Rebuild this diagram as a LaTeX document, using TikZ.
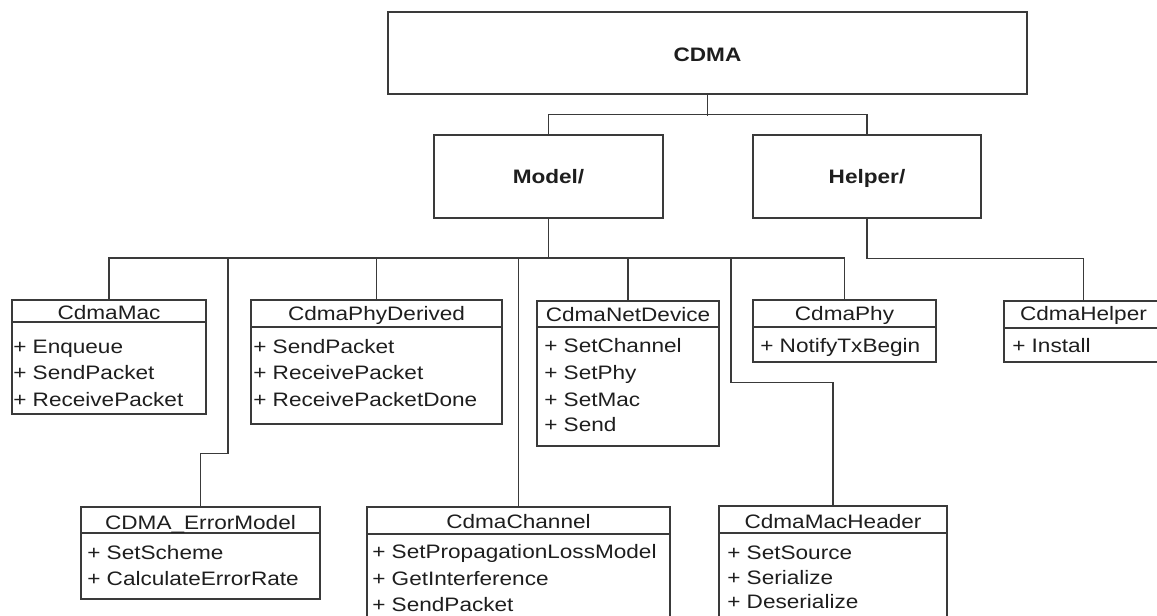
\documentclass[tikz,border=0pt]{standalone}
\usepackage{fontspec}
\setmainfont{Liberation Sans}[FakeStretch=1.16]
\usetikzlibrary{fit}
\definecolor{lc}{HTML}{3A3A3A}
\definecolor{tc}{HTML}{1E1E1E}
\newcommand\diagfont{\fontsize{14.6}{17}\selectfont}
\begin{document}
\begin{tikzpicture}[x=0.75pt,y=-0.75pt,
  umlbox/.style={draw=lc,line width=1pt,inner sep=0pt,rectangle},
  wire/.style={draw=lc,line width=1pt},
  ttl/.style={anchor=base,inner sep=0pt,text=tc,font=\diagfont},
  row/.style={anchor=base west,inner sep=0pt,text=tc,font=\diagfont},
  pkg/.style={anchor=base,inner sep=0pt,text=tc,font=\diagfont\bfseries}]
\path[use as bounding box] (0,0) rectangle (1157,616);
\clip (0,0) rectangle (1157,616);

% package boxes
\node[umlbox,fit={(388,12) (1027,94)}] (cdma) {};
\node[pkg] (cdmat) at (707.5,62) {CDMA};
\node[umlbox,fit={(434,135) (663,218)}] (model) {};
\node[pkg] (modelt) at (548.5,184) {Model/};
\node[umlbox,fit={(753,135) (981,218)}] (helper) {};
\node[pkg] (helpert) at (867,184) {Helper/};

% CdmaMac
\node[umlbox,fit={(12,300) (206,414)}] (mac) {};
\draw[wire] (mac.west |- 0,322) -- (mac.east |- 0,322);
\node[ttl] (mact) at (109,320) {CdmaMac};
\node[row] (mac1) at (13,354) {+ Enqueue};
\node[row] (mac2) at (13,380) {+ SendPacket};
\node[row] (mac3) at (13,407) {+ ReceivePacket};

% CdmaPhyDerived
\node[umlbox,fit={(251,300) (502,424)}] (phyd) {};
\draw[wire] (phyd.west |- 0,327) -- (phyd.east |- 0,327);
\node[ttl] (phydt) at (376.5,321) {CdmaPhyDerived};
\node[row] (phyd1) at (253,354) {+ SendPacket};
\node[row] (phyd2) at (253,380) {+ ReceivePacket};
\node[row] (phyd3) at (253,407) {+ ReceivePacketDone};

% CdmaNetDevice
\node[umlbox,fit={(537,301) (719,446)}] (netdev) {};
\draw[wire] (netdev.west |- 0,327) -- (netdev.east |- 0,327);
\node[ttl] (netdevt) at (628,322) {CdmaNetDevice};
\node[row] (nd1) at (544,353) {+ SetChannel};
\node[row] (nd2) at (544,380) {+ SetPhy};
\node[row] (nd3) at (544,407) {+ SetMac};
\node[row] (nd4) at (544,432) {+ Send};

% CdmaPhy
\node[umlbox,fit={(753,300) (936,362)}] (phy) {};
\draw[wire] (phy.west |- 0,327) -- (phy.east |- 0,327);
\node[ttl] (phyt) at (844.5,321) {CdmaPhy};
\node[row] (phy1) at (760,353) {+ NotifyTxBegin};

% CdmaHelper
\node[umlbox,fit={(1004,301) (1163,362)}] (hlp) {};
\draw[wire] (hlp.west |- 0,328) -- (hlp.east |- 0,328);
\node[ttl] (hlpt) at (1083.5,321) {CdmaHelper};
\node[row] (hlp1) at (1012,353) {+ Install};

% CDMA_ErrorModel
\node[umlbox,fit={(81,507) (320,599)}] (err) {};
\draw[wire] (err.west |- 0,533) -- (err.east |- 0,533);
\node[ttl] (errt) at (200.5,529) {CDMA\_ErrorModel};
\node[row] (err1) at (87,559) {+ SetScheme};
\node[row] (err2) at (87,585) {+ CalculateErrorRate};

% CdmaChannel
\node[umlbox,fit={(367,507) (670,630)}] (chan) {};
\draw[wire] (chan.west |- 0,534) -- (chan.east |- 0,534);
\node[ttl] (chant) at (518.5,528) {CdmaChannel};
\node[row] (ch1) at (372,558) {+ SetPropagationLossModel};
\node[row] (ch2) at (372,585) {+ GetInterference};
\node[row] (ch3) at (372,611) {+ SendPacket};

% CdmaMacHeader
\node[umlbox,fit={(719,506) (947,630)}] (mh) {};
\draw[wire] (mh.west |- 0,533) -- (mh.east |- 0,533);
\node[ttl] (mht) at (833,528) {CdmaMacHeader};
\node[row] (mh1) at (727,559) {+ SetSource};
\node[row] (mh2) at (727,584) {+ Serialize};
\node[row] (mh3) at (727,608) {+ Deserialize};

% connectors
\coordinate (bus) at (0,258);
\coordinate (tapErr) at (228,258);
\coordinate (tapMh) at (731,258);
\draw[wire] (cdma.south) -- ++(0,21);
\draw[wire] (model.north) -- ++(0,-20) -| (helper.north);
\draw[wire] (model.south) -- (model.south |- bus);
\draw[wire] (mac.north) |- (phy.north |- bus) -- (phy.north);
\draw[wire] (phyd.north) -- (phyd.north |- bus);
\draw[wire] (netdev.north) -- (netdev.north |- bus);
\draw[wire] (chan.north) -- (chan.north |- bus);
\draw[wire] (err.north) -- ++(0,-53) -| (tapErr);
\draw[wire] (mh.north) -- ++(0,-123) -| (tapMh);
\draw[wire] (helper.south) -- ++(0,40) -| (hlp.north);
\end{tikzpicture}
\end{document}
